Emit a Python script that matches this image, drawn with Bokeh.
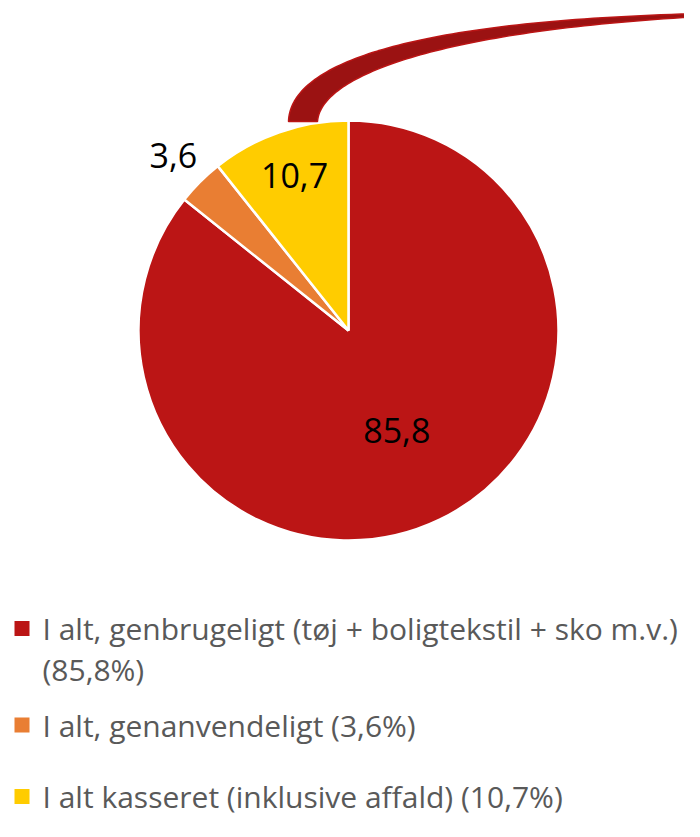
import numpy as np
from bokeh.plotting import figure
from bokeh.models import Range1d, ColumnDataSource
from bokeh.embed import file_html
from bokeh.resources import INLINE
from bokeh.core.properties import value

# ---- data ----
names = ["I alt, genbrugeligt (tøj + boligtekstil + sko m.v.)",
         "I alt, genanvendeligt",
         "I alt kasseret (inklusive affald)"]
values = [85.8, 3.6, 10.7]
value_labels = ["85,8", "3,6", "10,7"]
colors = ["#BB1515", "#E97E33", "#FFCC00"]

# ---- layout (picture pixel coords -> figure coords) ----
W, H = 684, 821
def fx(ix):
    return np.asarray(ix, dtype=float)
def fy(iy):
    return H - np.asarray(iy, dtype=float)

CX, CY, R = 348, 330, 210
label_r = [0.53, 1.18, 0.78]
FONT = "Open Sans"

p = figure(width=W, height=H, output_backend="svg", toolbar_location=None,
           x_range=Range1d(0, W), y_range=Range1d(0, H), min_border=0,
           outline_line_color=None, background_fill_color="white",
           border_fill_color="white")
p.axis.visible = False
p.grid.visible = False

# ---- pie wedges (clockwise from top) ----
vals = np.array(values)
frac = vals / vals.sum()
ang = 2 * np.pi * frac
starts = np.pi / 2 - np.concatenate([[0], np.cumsum(ang)[:-1]])
ends = starts - ang
src = ColumnDataSource(dict(start=starts, end=ends, color=colors))
p.wedge(x=float(fx(CX)), y=float(fy(CY)), radius=R, start_angle="start",
        end_angle="end", direction="clock", fill_color="color",
        line_color="white", line_width=2.5, source=src)

# ---- callout arrow (decorative ribbon from yellow slice to top right) ----
def bez(p0, p1, p2, p3, n=80):
    t = np.linspace(0, 1, n)[:, None]
    P = [np.array(q, dtype=float) for q in (p0, p1, p2, p3)]
    return ((1 - t) ** 3) * P[0] + 3 * ((1 - t) ** 2) * t * P[1] + 3 * (1 - t) * t ** 2 * P[2] + t ** 3 * P[3]
outer = bez((288, 121), (290, 60), (420, 20), (702, 13))
inner = bez((317, 121), (320, 75), (440, 30), (702, 16))
ax = np.concatenate([outer[:, 0], inner[::-1, 0]])
ay = np.concatenate([outer[:, 1], inner[::-1, 1]])
p.patch(fx(ax), fy(ay), fill_color="#9B1212", line_color="#BB1515", line_width=1.5)

# ---- slice labels ----
mids = (starts + ends) / 2
lx = CX + np.array(label_r) * R * np.cos(mids)
ly = CY - np.array(label_r) * R * np.sin(mids)
p.text(x=fx(lx), y=fy(ly), text=value_labels, text_font=value(FONT),
       text_font_size="34px", text_color="#000000", text_align="center",
       text_baseline="middle")

# ---- legend ----
entry_mid = [628, 724.5, 796]
line_h = 41
tx, ty, tt = [], [], []
sq_x, sq_y = [], []
for i, (nm, vl) in enumerate(zip(names, value_labels)):
    full = f"{nm} ({vl}%)"
    lines = [nm, f"({vl}%)"] if len(full) > 50 else [full]
    for j, ln in enumerate(lines):
        tx.append(42)
        ty.append(entry_mid[i] + j * line_h)
        tt.append(ln)
    sq_x.append(21.5)
    sq_y.append(entry_mid[i])
p.rect(x=fx(sq_x), y=fy(sq_y), width=15, height=15, width_units="screen",
       height_units="screen", fill_color=colors, line_color=None)
p.text(x=fx(tx), y=fy(ty), text=tt, text_font=value(FONT), text_font_size="30px",
       text_color="#595959", text_align="left", text_baseline="middle")

open("out.html", "w").write(file_html(p, INLINE))
